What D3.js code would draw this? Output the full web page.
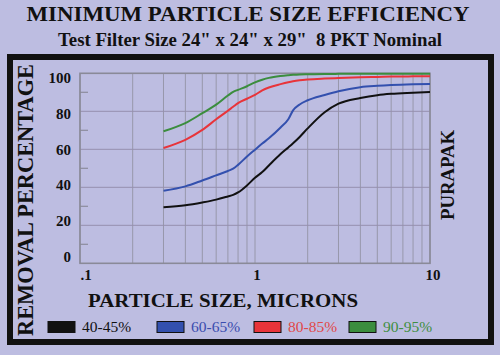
<!DOCTYPE html>
<html><head><meta charset="utf-8">
<script src="https://cdn.jsdelivr.net/npm/d3@7"></script>
<style>html,body{margin:0;padding:0;background:#bdbde1;}svg{display:block;}</style>
</head><body>
<svg id="c" width="500" height="355"></svg>
<script>
const sizes = [0.3,0.4,0.5,0.6,0.7,0.75,0.8,0.9,1.0,1.1,1.2,1.4,1.55,1.65,1.8,2.0,2.5,3,4,5,6,8,10];
const eff40 = [29.5,30.5,32,33.5,35.2,36,37.3,41,45,48,51.5,57.5,61,63.2,66.5,71,79.5,84,87,88.5,89.2,89.8,90.2];
const eff60 = [38.2,40.5,43.6,46.3,48.6,49.8,51.8,56.2,59.8,63,65.8,71.5,75.8,80.5,83.6,85.8,88.6,90.6,92.7,93.4,93.8,94.2,94.4];
const eff80 = [60.7,65,70.2,75.8,80.3,82.4,84.3,86.6,88.6,91,92.5,94.3,95.3,95.8,96.3,96.7,97.2,97.5,97.9,98.1,98.3,98.4,98.5];
const eff90 = [69.5,73.8,79,83.5,88.3,90.2,91.3,93.2,95.2,96.6,97.6,98.6,99,99.2,99.4,99.5,99.6,99.7,99.8,99.8,99.8,99.8,99.8];
const seriesNames = ["40-45%","60-65%","80-85%","90-95%"];
const yTicks = [0,20,40,60,80,100];
const yMinor = [10,30,50,70,90];
const xTickLabels = [".1","1","10"];
const xTickValues = [0.1,1,10];

const colors = ["#111111","#3350ae","#e8343a","#3b8d3e"];
const textColors = ["#111111","#3a4cae","#e04848","#3e8e40"];
const seriesData = [eff40,eff60,eff80,eff90];

const svg = d3.select("#c");
const font = "'Liberation Serif','Times New Roman',serif";

// outer border
svg.append("rect").attr("x",10).attr("y",57).attr("width",481).attr("height",285)
  .attr("fill","none").attr("stroke","#111").attr("stroke-width",6);

// titles
svg.append("text").attr("x",248).attr("y",21).attr("text-anchor","middle")
  .attr("font-family",font).attr("font-weight","bold").attr("font-size",22)
  .attr("textLength",443).attr("lengthAdjust","spacingAndGlyphs").attr("fill","#111")
  .text("MINIMUM PARTICLE SIZE EFFICIENCY");
svg.append("text").attr("x",250).attr("y",46).attr("text-anchor","middle")
  .attr("font-family",font).attr("font-weight","bold").attr("font-size",18.5)
  .attr("textLength",384).attr("lengthAdjust","spacingAndGlyphs").attr("fill","#111")
  .attr("xml:space","preserve")
  .text('Test Filter Size 24" x 24" x 29"  8 PKT Nominal');

const x = d3.scaleLog().domain([0.1,10]).range([80,430]);
const y = d3.scaleLinear().domain([0,100]).range([263.3,73.3]);
const yLab = d3.scaleLinear().domain([0,100]).range([262,83]);

// grid
const g = svg.append("g");
const vgrid = [];
for (let d=0.1; d<10; d*=10) for (let k=1;k<10;k++) vgrid.push(+(d*k).toFixed(3));
vgrid.push(10);
g.selectAll(".vg").data(vgrid).enter().append("line")
  .attr("x1",d=>x(d)).attr("x2",d=>x(d)).attr("y1",y(0)).attr("y2",y(100))
  .attr("stroke","#8f8f9e").attr("stroke-width",1).attr("opacity",0.8);
g.selectAll(".hg").data(yTicks.slice(1,-1)).enter().append("line")
  .attr("x1",x(0.1)).attr("x2",x(10)).attr("y1",d=>y(d)).attr("y2",d=>y(d))
  .attr("stroke","#958fae").attr("stroke-width",1);
g.selectAll(".mt").data(yMinor).enter().append("line")
  .attr("x1",x(0.1)).attr("x2",x(0.1)+8).attr("y1",d=>y(d)).attr("y2",d=>y(d))
  .attr("stroke","#8c8c9c").attr("stroke-width",1.2);
g.append("rect").attr("x",x(0.1)).attr("y",y(100)).attr("width",x(10)-x(0.1)).attr("height",y(0)-y(100))
  .attr("fill","none").attr("stroke","#8a8a98").attr("stroke-width",1.6);

// y tick labels
svg.selectAll(".yl").data(yTicks).enter().append("text")
  .attr("x",71).attr("y",d=>yLab(d)).attr("text-anchor","end")
  .attr("font-family",font).attr("font-weight","bold").attr("font-size",15).attr("fill","#111")
  .text(d=>d);
// x tick labels
svg.selectAll(".xl").data(xTickValues).enter().append("text")
  .attr("x",(d,i)=>x(d)+[6,2,3][i]).attr("y",280).attr("text-anchor","middle")
  .attr("font-family",font).attr("font-weight","bold").attr("font-size",15).attr("fill","#111")
  .text((d,i)=>xTickLabels[i]);

// lines
const line = d3.line().x((d,i)=>x(sizes[i])).y(d=>y(d)).curve(d3.curveMonotoneX);
seriesData.forEach((s,i)=>{
  svg.append("path").datum(s).attr("d",line).attr("fill","none")
    .attr("stroke",colors[i]).attr("stroke-width",2);
});

// axis titles
svg.append("text").attr("transform","translate(33,200) rotate(-90)").attr("text-anchor","middle")
  .attr("font-family",font).attr("font-weight","bold").attr("font-size",23)
  .attr("textLength",272).attr("lengthAdjust","spacingAndGlyphs").attr("fill","#111")
  .text("REMOVAL PERCENTAGE");
svg.append("text").attr("x",223).attr("y",307).attr("text-anchor","middle")
  .attr("font-family",font).attr("font-weight","bold").attr("font-size",19)
  .attr("textLength",270).attr("lengthAdjust","spacingAndGlyphs").attr("fill","#111")
  .text("PARTICLE SIZE, MICRONS");
svg.append("text").attr("transform","translate(454,175) rotate(-90)").attr("text-anchor","middle")
  .attr("font-family",font).attr("font-weight","bold").attr("font-size",19)
  .attr("textLength",90).attr("lengthAdjust","spacingAndGlyphs").attr("fill","#111")
  .text("PURAPAK");

// legend
const legX = [48,157,254,349];
const legG = svg.selectAll(".leg").data(seriesNames).enter().append("g");
legG.append("rect").attr("x",(d,i)=>legX[i]).attr("y",321.5).attr("width",27).attr("height",11)
  .attr("fill",(d,i)=>colors[i]).attr("stroke","#111").attr("stroke-width",1);
legG.append("text").attr("x",(d,i)=>legX[i]+34).attr("y",332).attr("font-family",font)
  .attr("font-size",15.5).attr("fill",(d,i)=>textColors[i]).text(d=>d);
</script>
</body></html>
